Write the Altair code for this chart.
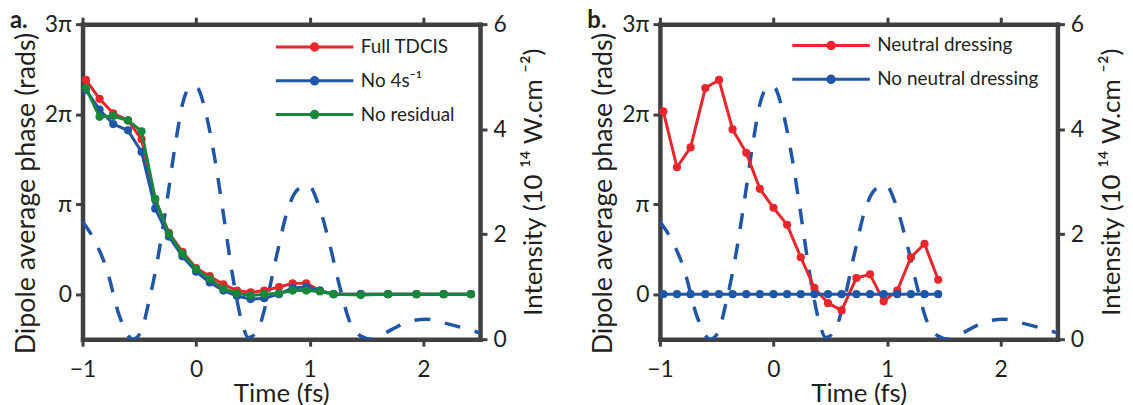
import altair as alt
import pandas as pd

# ---------------- data ----------------
# Panel a: dipole average phase, in units of pi
t_a = [-0.97, -0.85, -0.73, -0.60, -0.48, -0.36, -0.24, -0.12, 0.00, 0.12, 0.24, 0.36,
       0.48, 0.60, 0.73, 0.85, 0.97, 1.09, 1.21, 1.45, 1.69, 1.94, 2.18, 2.42]
full_tdcis = [2.38, 2.17, 2.01, 1.93, 1.72, 1.05, 0.68, 0.47, 0.29, 0.20, 0.11, 0.04,
              0.02, 0.04, 0.08, 0.12, 0.12, 0.04, 0.00, 0.00, 0.00, 0.00, 0.00, 0.00]
no_4s = [2.27, 2.05, 1.89, 1.82, 1.58, 0.95, 0.64, 0.42, 0.25, 0.13, 0.04, -0.02,
         -0.055, -0.045, 0.00, 0.07, 0.08, 0.04, 0.00, 0.00, 0.00, 0.00, 0.00, 0.00]
no_residual = [2.29, 1.97, 1.98, 1.93, 1.81, 1.06, 0.67, 0.45, 0.28, 0.17, 0.06, 0.01,
               -0.015, 0.00, 0.01, 0.04, 0.04, 0.03, 0.00, -0.01, 0.00, 0.00, 0.00, 0.00]

# Panel b
t_b = [-0.97, -0.85, -0.73, -0.60, -0.48, -0.36, -0.24, -0.12, 0.00, 0.12, 0.24,
       0.36, 0.48, 0.60, 0.73, 0.85, 0.97, 1.09, 1.21, 1.33, 1.45]
neutral_dressing = [2.03, 1.41, 1.63, 2.29, 2.38, 1.83, 1.57, 1.17, 0.96, 0.77, 0.41,
                    0.07, -0.10, -0.18, 0.18, 0.22, -0.08, 0.04, 0.41, 0.56, 0.16]
no_neutral_dressing = [0.0, 0.0, 0.0, 0.0, 0.0, 0.0, 0.0, 0.0, 0.0, 0.0, 0.0,
                       0.0, 0.0, 0.0, 0.0, 0.0, 0.0, 0.0, 0.0, 0.0, 0.0]

# Laser intensity (10^14 W/cm^2), dashed curve (same in both panels)
t_int = [-1.00, -0.92, -0.79, -0.67, -0.556, -0.49, -0.415, -0.337, -0.258, -0.18,
         -0.117, -0.04, 0.01, 0.085, 0.18, 0.242, 0.32, 0.40, 0.46, 0.54, 0.62, 0.71,
         0.81, 0.90, 0.99, 1.07, 1.17, 1.26, 1.35, 1.45, 1.54, 1.65, 1.78, 1.90, 2.03,
         2.18, 2.34, 2.50]
intensity = [2.24, 1.98, 1.35, 0.41, 0.00, 0.12, 0.72, 1.54, 2.61, 3.75,
             4.50, 4.82, 4.79, 4.31, 3.24, 2.36, 1.23, 0.35, 0.03, 0.16, 0.72, 1.60,
             2.49, 2.86, 2.93, 2.61, 1.86, 1.04, 0.35, 0.06, 0.00, 0.10, 0.25, 0.35, 0.38,
             0.31, 0.22, 0.12]

names_a = ["Full TDCIS", "No 4s\u207b\u00b9", "No residual"]
names_b = ["Neutral dressing", "No neutral dressing"]

RED = "#e8262b"
BLUE = "#1f56a6"
GREEN = "#17883b"
AX = "#404040"
TXT = "#231f20"
FONT = "Lato"

colors_a = [RED, BLUE, GREEN]
colors_b = [RED, BLUE]

df_a = pd.DataFrame({
    "t": t_a * 3,
    "phase": full_tdcis + no_4s + no_residual,
    "series": [names_a[0]] * len(t_a) + [names_a[1]] * len(t_a) + [names_a[2]] * len(t_a),
})
df_b = pd.DataFrame({
    "t": t_b * 2,
    "phase": neutral_dressing + no_neutral_dressing,
    "series": [names_b[0]] * len(t_b) + [names_b[1]] * len(t_b),
})
df_int = pd.DataFrame({"t": t_int, "I": intensity})

XDOM = [-1, 2.5]
W, H = 400, 317

SYMBOL = "M-6,0L6,0M-0.5,0A0.5,0.5,0,1,1,0.5,0A0.5,0.5,0,1,1,-0.5,0Z"


def panel(df, names, colors, label, lx, ly):
    def legend():
        return alt.Legend(
            title=None, orient="none", legendX=lx, legendY=ly, padding=0,
            symbolType=SYMBOL, symbolSize=169, symbolStrokeWidth=3, symbolOpacity=1,
            labelFont=FONT, labelFontSize=19, labelColor=TXT, labelOffset=37,
            labelLimit=400, rowPadding=14,
        )

    x = alt.X("t:Q", scale=alt.Scale(domain=XDOM, nice=False, zero=False),
              axis=alt.Axis(orient="bottom", values=[-1, 0, 1, 2], title="Time (fs)",
                            labelPadding=13, titlePadding=-1, labelFlush=False))
    y = alt.Y("phase:Q", scale=alt.Scale(domain=[-0.5, 3], nice=False, zero=False),
              axis=alt.Axis(orient="left", values=[0, 1, 2, 3],
                            labelExpr="datum.value == 0 ? '0' : datum.value == 1 ? '\u03c0' : datum.value + '\u03c0'",
                            title="Dipole average phase (rads)", labelPadding=4,
                            titlePadding=4, titleY=170, titleFontSize=27))
    stroke = alt.Stroke("series:N", scale=alt.Scale(domain=names, range=colors), legend=legend())
    fill = alt.Fill("series:N", scale=alt.Scale(domain=names, range=colors), legend=legend())
    layers = []
    for n in names:
        d = df[df.series == n]
        layers.append(
            alt.Chart(d).mark_line(strokeWidth=3, strokeJoin="round").encode(x=x, y=y, stroke=stroke)
        )
        layers.append(
            alt.Chart(d).mark_point(filled=True, size=68, opacity=1).encode(x=x, y=y, fill=fill)
        )
    phase = alt.layer(*layers)

    dashed = alt.Chart(df_int).mark_line(
        color=BLUE, strokeWidth=3.5, strokeDash=[16, 15], interpolate="monotone", clip=True
    ).encode(
        x=alt.X("t:Q", scale=alt.Scale(domain=XDOM, nice=False, zero=False),
                axis=alt.Axis(orient="top", values=[-1, 0, 1, 2], labels=False, title=None)),
        y=alt.Y("I:Q", scale=alt.Scale(domain=[0, 6], nice=False, zero=False),
                axis=alt.Axis(orient="right", values=[0, 2, 4, 6],
                              title="Intensity (10 \u00b9\u2074 W.cm \u207b\u00b2)",
                              titleAngle=270, titleBaseline="top", labelPadding=6,
                              titlePadding=15)),
    )
    return alt.layer(dashed, phase).resolve_scale(x="independent", y="independent").properties(
        width=W, height=H,
        title=alt.TitleParams(text=label, anchor="start", frame="group", orient="top",
                              font=FONT, fontSize=24, fontWeight="bold", color=TXT,
                              dx=-73, baseline="alphabetic", offset=-39),
    )


pa = panel(df_a, names_a, colors_a, "a.", 224, 13.5)
pb = panel(df_b, names_b, colors_b, "b.", 162.7, 12)

chart = alt.hconcat(pa, pb, spacing=40).resolve_scale(
    x="independent", y="independent", stroke="independent", fill="independent"
).configure_axis(
    domainColor=AX, domainWidth=4.5, domainCap="square", tickColor=AX, tickWidth=3,
    tickSize=7, grid=False, labelFont=FONT, labelFontSize=23, labelColor=TXT,
    titleFont=FONT, titleFontSize=26, titleFontWeight="normal", titleColor=TXT,
).configure_view(stroke=None).properties(
    padding={"left": 2, "top": 0, "right": 0, "bottom": 0}, background="white"
)

chart.save("out.html", embed_options={"renderer": "svg", "actions": False})
